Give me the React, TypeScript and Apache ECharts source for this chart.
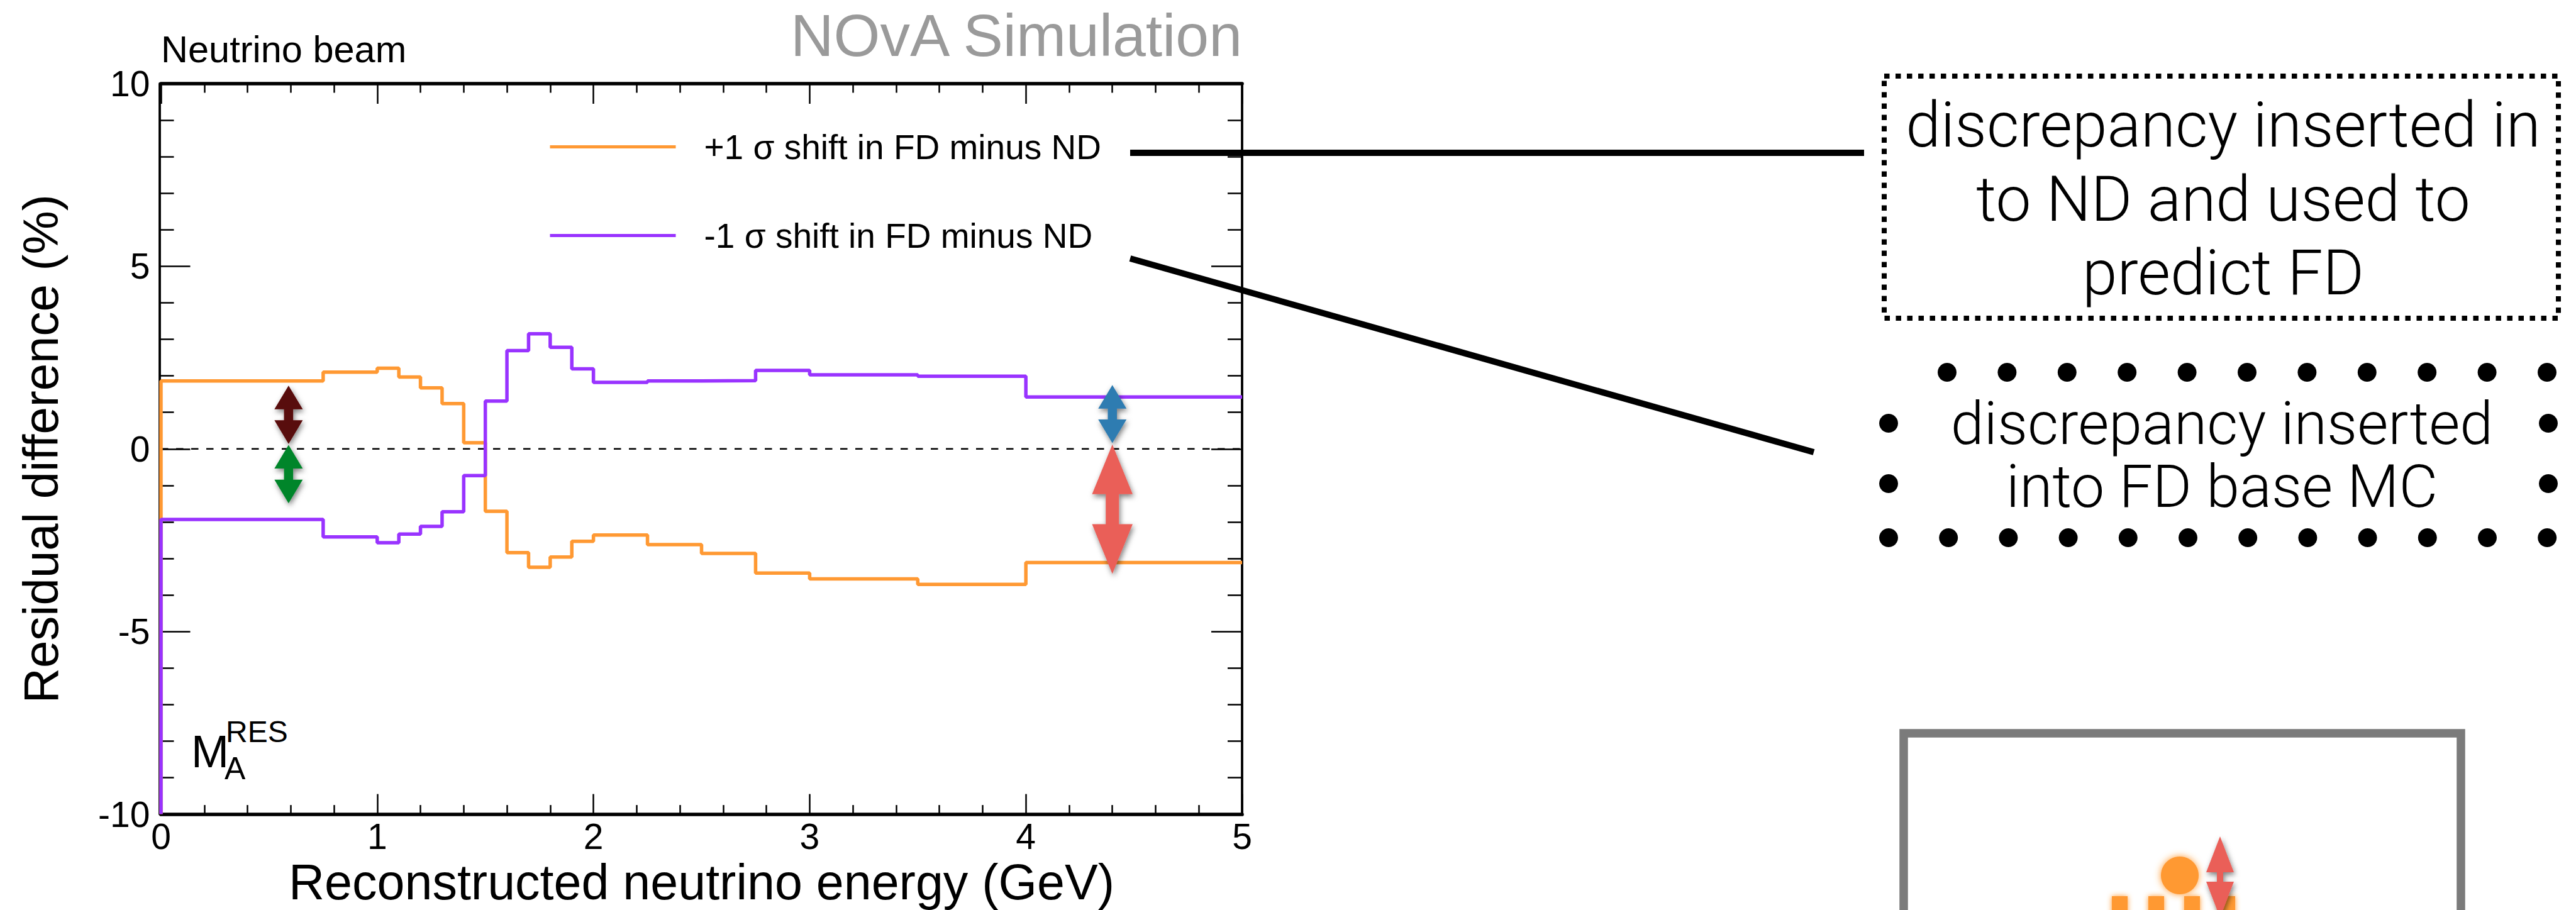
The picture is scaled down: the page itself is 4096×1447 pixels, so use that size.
import React, { useEffect, useRef } from 'react';
import * as echarts from 'echarts';

// ---- data ----
const binEdges = [0, 0.75, 1.0, 1.1, 1.2, 1.3, 1.4, 1.5, 1.6, 1.7, 1.8, 1.9, 2.0, 2.25, 2.5, 2.75, 3.0, 3.5, 4.0, 5.0];
const plusShift = [1.86, 2.10, 2.21, 1.97, 1.67, 1.24, 0.17, -1.71, -2.84, -3.24, -2.96, -2.53, -2.36, -2.62, -2.86, -3.40, -3.56, -3.71, -3.11];
const minusShift = [-1.93, -2.41, -2.57, -2.33, -2.12, -1.72, -0.73, 1.31, 2.69, 3.15, 2.78, 2.19, 1.82, 1.86, 1.87, 2.15, 2.03, 1.99, 1.42];
const seriesNames = ['+1 σ shift in FD minus ND', '-1 σ shift in FD minus ND'];
const xRange = [0, 5];
const yRange = [-10, 10];
const zeroLine = [[0, 0], [5, 0]];
const arrowX = [0.59, 0.59, 4.4, 4.4];
const arrowFrom = [0.14, 0.11, 0.16, 0.12];
const arrowTo = [1.73, -1.49, 1.75, -3.42];
const box1Lines = ['discrepancy inserted in', 'to ND and used to', 'predict FD'];
const box2Lines = ['discrepancy inserted', 'into FD base MC'];

// ---- styles ----
const FONT = "'Liberation Sans', Arial, Helvetica, sans-serif";
const LIGHT_FONT = "Roboto, 'Liberation Sans', Arial, sans-serif";
const ORANGE = '#ff9933';
const PURPLE = '#9933ff';
const arrowColors = ['#580707', '#05852b', '#2f7bb1', '#ea5f58'];
const arrowSizes = [
  { w: 45, h: 37.5, s: 14.5 },
  { w: 45, h: 37.5, s: 14.5 },
  { w: 45, h: 37.5, s: 14.5 },
  { w: 64.5, h: 79, s: 21 },
];

function stepData(values: number[]) {
  const pts: number[][] = [[binEdges[0], yRange[0]]];
  values.forEach((v, i) => pts.push([binEdges[i], v]));
  pts.push([binEdges[binEdges.length - 1], values[values.length - 1]]);
  return pts;
}

function dblArrow(cx: number, yt: number, yb: number, w: number, h: number, s: number) {
  return [
    [cx, yt], [cx + w / 2, yt + h], [cx + s / 2, yt + h], [cx + s / 2, yb - h],
    [cx + w / 2, yb - h], [cx, yb], [cx - w / 2, yb - h], [cx - s / 2, yb - h],
    [cx - s / 2, yt + h], [cx - w / 2, yt + h],
  ];
}

const shadow = { shadowBlur: 8, shadowOffsetX: 2, shadowOffsetY: 4, shadowColor: 'rgba(0,0,0,0.5)' };

function buildGraphics() {
  const g: any[] = [];
  // header texts
  g.push({ type: 'text', x: 1975, y: 56, style: { text: 'NOvA Simulation', fontSize: 95, fontFamily: FONT, fill: '#9a9a9a', align: 'right', verticalAlign: 'middle' } });
  g.push({ type: 'text', x: 256, y: 78, style: { text: 'Neutrino beam', fontSize: 59.5, fontFamily: FONT, fill: '#000', align: 'left', verticalAlign: 'middle' } });
  // M_A^RES
  g.push({ type: 'text', x: 304, y: 1195, style: { text: 'M', fontSize: 72, fontFamily: FONT, fill: '#000', align: 'left', verticalAlign: 'middle' } });
  g.push({ type: 'text', x: 359, y: 1163, style: { text: 'RES', fontSize: 48, fontFamily: FONT, fill: '#000', align: 'left', verticalAlign: 'middle' } });
  g.push({ type: 'text', x: 357, y: 1222, style: { text: 'A', fontSize: 50, fontFamily: FONT, fill: '#000', align: 'left', verticalAlign: 'middle' } });
  // connectors
  g.push({ type: 'line', shape: { x1: 1797, y1: 243, x2: 2964, y2: 243 }, style: { stroke: '#000', lineWidth: 10 } });
  g.push({ type: 'line', shape: { x1: 1797, y1: 411, x2: 2884, y2: 719 }, style: { stroke: '#000', lineWidth: 10 } });
  // box 1 (dashed)
  g.push({ type: 'rect', shape: { x: 2996, y: 121, width: 1072, height: 385 }, style: { fill: 'none', stroke: '#000', lineWidth: 8, lineDash: [8.5, 9.5] } });
  const b1y = [198, 316, 433];
  box1Lines.forEach((t, i) => g.push({ type: 'text', x: 3535, y: b1y[i], style: { text: t, fontSize: 100, fontWeight: 300, fontFamily: LIGHT_FONT, fill: '#000', align: 'center', verticalAlign: 'middle' } }));
  // box 2 (round dots)
  const dotR = 15;
  for (let i = 0; i < 11; i++) g.push({ type: 'circle', shape: { cx: 3096 + i * 95.4, cy: 592, r: dotR }, style: { fill: '#000' } });
  for (let i = 0; i < 12; i++) g.push({ type: 'circle', shape: { cx: 3003 + i * 95.2, cy: 855, r: dotR }, style: { fill: '#000' } });
  [673, 769].forEach((cy) => {
    g.push({ type: 'circle', shape: { cx: 3003, cy, r: dotR }, style: { fill: '#000' } });
    g.push({ type: 'circle', shape: { cx: 4052, cy, r: dotR }, style: { fill: '#000' } });
  });
  const b2y = [673, 773];
  box2Lines.forEach((t, i) => g.push({ type: 'text', x: 3533, y: b2y[i], style: { text: t, fontSize: 95, fontWeight: 300, fontFamily: LIGHT_FONT, fill: '#000', align: 'center', verticalAlign: 'middle' } }));
  // sketch box bottom-right
  g.push({ type: 'rect', shape: { x: 3027, y: 1166, width: 886, height: 420 }, style: { fill: 'none', stroke: '#7b7b7b', lineWidth: 13.5 } });
  [3358, 3416, 3473, 3529].forEach((x) => g.push({ type: 'rect', shape: { x, y: 1425, width: 25, height: 40 }, style: { fill: ORANGE, shadowBlur: 8, shadowColor: ORANGE } }));
  g.push({ type: 'circle', shape: { cx: 3466, cy: 1392, r: 30 }, style: { fill: ORANGE, shadowBlur: 12, shadowColor: ORANGE } });
  g.push({ type: 'polygon', shape: { points: dblArrow(3530, 1330, 1459, 44, 57, 10) }, style: { fill: '#ea5f58', ...shadow } });
  return g;
}

export default function App() {
  const ref = useRef<HTMLDivElement>(null);
  useEffect(() => {
    if (!ref.current) return;
    const chart = echarts.init(ref.current, undefined, { renderer: 'svg' });
    const axisLineH = { show: true, onZero: false, lineStyle: { color: '#000', width: 5.7 } };
    const axisLineV = { show: true, onZero: false, lineStyle: { color: '#000', width: 3.8 } };
    const xTick = { show: true, inside: true, length: 32, lineStyle: { color: '#000', width: 2.5 } };
    const xMinor = { show: true, splitNumber: 5, length: 14.5, lineStyle: { color: '#000', width: 2.5 } };
    const yTick = { show: true, inside: true, length: 49, lineStyle: { color: '#000', width: 2.5 } };
    const yMinor = { show: true, splitNumber: 5, length: 23, lineStyle: { color: '#000', width: 2.5 } };
    const legendBase = {
      orient: 'vertical', left: 872, padding: 0, itemWidth: 200, itemHeight: 60, selectedMode: false,
      lineStyle: { width: 5 },
      itemStyle: { opacity: 0, borderWidth: 0 },
      textStyle: { fontSize: 55, fontFamily: FONT, color: '#000', lineHeight: 60, padding: [0, 0, 0, 40] },
    };
    const option: any = {
      animation: false,
      grid: { left: 256, top: 133, width: 1719, height: 1167, containLabel: false },
      legend: [
        { ...legendBase, top: 233.5 - 30, data: [seriesNames[0]] },
        { ...legendBase, top: 374.5 - 30, data: [seriesNames[1]] },
      ],
      xAxis: [
        {
          type: 'value', position: 'bottom', min: xRange[0], max: xRange[1], interval: 1,
          axisLine: axisLineH, axisTick: xTick, minorTick: xMinor,
          splitLine: { show: false }, minorSplitLine: { show: false },
          axisLabel: { fontSize: 57, fontFamily: FONT, color: '#000', margin: 35, verticalAlign: 'middle' },
          name: 'Reconstructed neutrino energy (GeV)', nameLocation: 'middle', nameGap: 104,
          nameTextStyle: { fontSize: 79, fontFamily: FONT, color: '#000', verticalAlign: 'middle' },
        },
        {
          type: 'value', position: 'top', min: xRange[0], max: xRange[1], interval: 1,
          axisLine: axisLineH, axisTick: xTick, minorTick: xMinor,
          splitLine: { show: false }, axisLabel: { show: false },
        },
      ],
      yAxis: [
        {
          type: 'value', position: 'left', offset: 2.5, min: yRange[0], max: yRange[1], interval: 5,
          axisLine: axisLineV, axisTick: yTick, minorTick: yMinor,
          splitLine: { show: false }, minorSplitLine: { show: false },
          axisLabel: { fontSize: 57, fontFamily: FONT, color: '#000', margin: 15 },
          name: 'Residual difference (%)', nameLocation: 'middle', nameGap: 188.5, nameRotate: 90,
          nameTextStyle: { fontSize: 78, fontFamily: FONT, color: '#000', verticalAlign: 'middle', align: 'center' },
        },
        {
          type: 'value', position: 'right', min: yRange[0], max: yRange[1], interval: 5,
          axisLine: axisLineV, axisTick: yTick, minorTick: yMinor,
          splitLine: { show: false }, axisLabel: { show: false },
        },
      ],
      series: [
        {
          type: 'line', name: 'zero', data: zeroLine, symbol: 'none', silent: true,
          lineStyle: { color: '#000', width: 2.5, type: [11.5, 12.5] }, z: 2,
        },
        {
          type: 'line', name: seriesNames[0], data: stepData(plusShift), step: 'end', symbol: 'none',
          lineStyle: { color: ORANGE, width: 5.5 }, itemStyle: { color: ORANGE }, z: 3,
        },
        {
          type: 'line', name: seriesNames[1], data: stepData(minusShift), step: 'end', symbol: 'none',
          lineStyle: { color: PURPLE, width: 5.5 }, itemStyle: { color: PURPLE }, z: 3,
        },
        {
          type: 'custom', name: 'arrows', coordinateSystem: 'cartesian2d', silent: true, clip: false, z: 5,
          encode: { x: 0, y: [1, 2] },
          data: arrowX.map((x, i) => [x, arrowFrom[i], arrowTo[i]]),
          renderItem: (params: any, api: any) => {
            const i = params.dataIndex;
            const p1 = api.coord([api.value(0), api.value(1)]);
            const p2 = api.coord([api.value(0), api.value(2)]);
            const yt = Math.min(p1[1], p2[1]);
            const yb = Math.max(p1[1], p2[1]);
            const sz = arrowSizes[i];
            return {
              type: 'polygon',
              shape: { points: dblArrow(p1[0], yt, yb, sz.w, sz.h, sz.s) },
              style: { fill: arrowColors[i], ...shadow },
            };
          },
        },
      ],
      graphic: buildGraphics(),
    };
    chart.setOption(option);
    return () => chart.dispose();
  }, []);
  return <div ref={ref} style={{ position: 'fixed', left: 0, top: 0, width: '4096px', height: '1447px', background: '#fff' }} />;
}
